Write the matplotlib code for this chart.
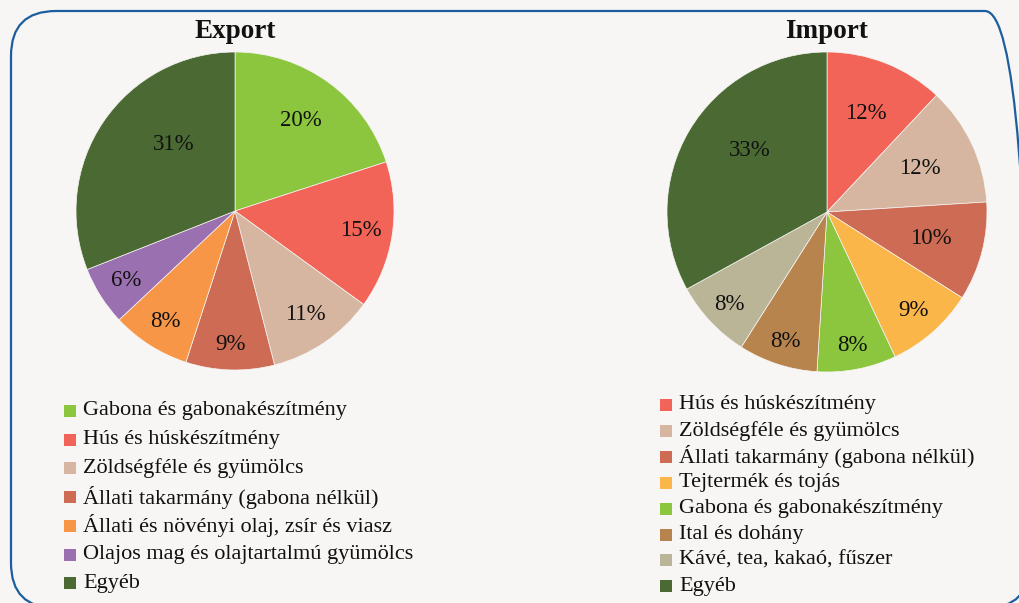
import matplotlib
matplotlib.use("Agg")
import matplotlib.pyplot as plt
from matplotlib.patches import FancyBboxPatch, Rectangle
import numpy as np

plt.rcParams['font.family'] = ['Liberation Serif', 'DejaVu Serif']

export_labels = ["Gabona és gabonakészítmény", "Hús és húskészítmény", "Zöldségféle és gyümölcs",
                 "Állati takarmány (gabona nélkül)", "Állati és növényi olaj, zsír és viasz",
                 "Olajos mag és olajtartalmú gyümölcs", "Egyéb"]
export_values = [20, 15, 11, 9, 8, 6, 31]
export_colors = ["#8cc63f", "#f26457", "#d6b6a0", "#cd6b55", "#f79646", "#9b70b0", "#4b6a33"]

import_labels = ["Hús és húskészítmény", "Zöldségféle és gyümölcs", "Állati takarmány (gabona nélkül)",
                 "Tejtermék és tojás", "Gabona és gabonakészítmény", "Ital és dohány",
                 "Kávé, tea, kakaó, fűszer", "Egyéb"]
import_values = [12, 12, 10, 9, 8, 8, 8, 33]
import_colors = ["#f26457", "#d6b6a0", "#cd6b55", "#fbb64a", "#8cc63f", "#b8844e", "#bbb598", "#4b6a33"]

BG = "#f7f6f4"
W, H = 1019, 603
fig = plt.figure(figsize=(W / 100, H / 100), dpi=100, facecolor=BG)

# border overlay (pixel coordinates, y measured upward)
bax = fig.add_axes([0, 0, 1, 1])
bax.set_xlim(0, W)
bax.set_ylim(0, H)
bax.axis("off")
bax.patch.set_alpha(0)
bax.add_patch(FancyBboxPatch((11, H - 608), 1019, 597, boxstyle="round,pad=0,rounding_size=45",
                             fill=False, edgecolor="#1c5e9e", linewidth=1.6))


def draw_pie(cx, cy, r, values, colors, title, radii, ang_off):
    ax = fig.add_axes([(cx - r) / W, 1 - (cy + r) / H, 2 * r / W, 2 * r / H])
    ax.pie(values, colors=colors, startangle=90, counterclock=False, radius=1,
           wedgeprops=dict(edgecolor=BG, linewidth=0.5))
    ax.set_xlim(-1, 1)
    ax.set_ylim(-1, 1)
    ax.axis("off")
    total = float(sum(values))
    cum = 0.0
    for v, rr, off in zip(values, radii, ang_off):
        mid = (cum + v / 2) / total * 360 + off  # clockwise from top
        cum += v
        a = np.deg2rad(mid)
        ax.text(rr * np.sin(a), rr * np.cos(a), f"{v}%", ha="center", va="center",
                fontsize=16.5, color="#111111")
    fig.text(cx / W, 1 - 32 / H, title, ha="center", va="center", fontsize=19.5,
             fontweight="bold", color="#111111")


draw_pie(235, 211, 159, export_values, export_colors, "Export",
         [0.70, 0.80, 0.79, 0.84, 0.82, 0.81, 0.57], [0, 0, 0, 0, 0, 0, 13])
draw_pie(827, 212, 160, import_values, import_colors, "Import",
         [0.66, 0.64, 0.67, 0.82, 0.85, 0.85, 0.84, 0.62], [0, 0, 0, 0, 0, 0, 0, 8])


def draw_legend(x0, y0, dy, labels, colors):
    for i, (lab, col) in enumerate(zip(labels, colors)):
        y = H - (y0 + i * dy)
        bax.add_patch(Rectangle((x0, y - 6), 12, 12, facecolor=col, edgecolor="none"))
        bax.text(x0 + 19, y, lab, ha="left", va="center", fontsize=16, color="#111111")


draw_legend(64, 411, 28.7, export_labels, export_colors)
draw_legend(660, 405, 25.9, import_labels, import_colors)

fig.savefig("out.png", dpi=100, facecolor=BG)
